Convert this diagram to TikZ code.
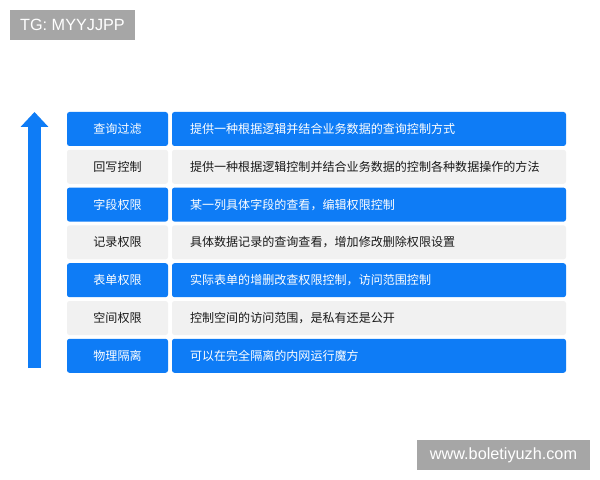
\documentclass[tikz,border=0pt]{standalone}
\usepackage{fontspec}
\setmainfont{Noto Sans CJK SC}
\newfontfamily\tagfont{Liberation Sans}
\usetikzlibrary{arrows.meta}
\definecolor{blu}{RGB}{14,124,246}
\definecolor{gry}{RGB}{241,241,241}
\definecolor{tagbg}{RGB}{166,166,166}
\begin{document}
\begin{tikzpicture}[x=1bp,y=-1bp,
    cell/.style={rectangle,rounded corners=2.5bp,inner sep=0pt,
        minimum height=34bp,font=\fontsize{12.1}{14}\selectfont},
    key/.style={cell,minimum width=101bp,align=center},
    txt/.style={cell,minimum width=394bp,text width=358bp,
        inner xsep=18bp,align=left},
    blue/.style={fill=blu,text=white},
    grey/.style={fill=gry,text=black!90},
    tag/.style={fill=tagbg,text=white,inner sep=0pt,minimum height=30bp,
        font=\tagfont\fontsize{16.3}{18}\selectfont}]

    \useasboundingbox[fill=white] (0,0) rectangle (600,480);

    \node[tag,minimum width=125bp] (tg) at (72.5,25) {TG: MYYJJPP};
    \node[tag,minimum width=173bp] (www) at (503.5,455) {www.boletiyuzh.com};

    \node[key,blue] (l1) at (117.5,129) {查询过滤};
    \node[txt,blue] (r1) at (369,129) {提供一种根据逻辑并结合业务数据的查询控制方式};
    \node[key,grey] (l2) at (117.5,166.8) {回写控制};
    \node[txt,grey] (r2) at (369,166.8) {提供一种根据逻辑控制并结合业务数据的控制各种数据操作的方法};
    \node[key,blue] (l3) at (117.5,204.6) {字段权限};
    \node[txt,blue] (r3) at (369,204.6) {某一列具体字段的查看，编辑权限控制};
    \node[key,grey] (l4) at (117.5,242.4) {记录权限};
    \node[txt,grey] (r4) at (369,242.4) {具体数据记录的查询查看，增加修改删除权限设置};
    \node[key,blue] (l5) at (117.5,280.2) {表单权限};
    \node[txt,blue] (r5) at (369,280.2) {实际表单的增删改查权限控制，访问范围控制};
    \node[key,grey] (l6) at (117.5,318) {空间权限};
    \node[txt,grey] (r6) at (369,318) {控制空间的访问范围，是私有还是公开};
    \node[key,blue] (l7) at (117.5,355.8) {物理隔离};
    \node[txt,blue] (r7) at (369,355.8) {可以在完全隔离的内网运行魔方};

    \coordinate (low) at (34.5,368);
    \coordinate (top) at (34.5,112);
    \draw[blu,line width=13bp,-{Triangle[width=27bp,length=15bp]}] (low) -- (top);
\end{tikzpicture}
\end{document}
